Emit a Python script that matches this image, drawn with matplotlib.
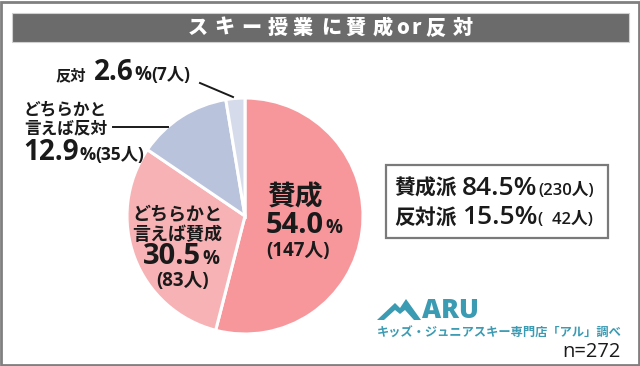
import matplotlib
matplotlib.use("Agg")
import matplotlib.pyplot as plt
from matplotlib.patches import Rectangle, Polygon

plt.rcParams['font.family'] = ['Noto Sans CJK JP', 'DejaVu Sans']

# ---- data ----
categories = ["賛成", "どちらかと言えば賛成", "どちらかと言えば反対", "反対"]
percents = [54.0, 30.5, 12.9, 2.6]
counts = [147, 83, 35, 7]
colors = ["#f7979c", "#f7b2b5", "#b9c3db", "#d5dbea"]
title = "スキー授業に賛成or反対"
summary_labels = ["賛成派", "反対派"]
summary_pct = [84.5, 15.5]
summary_cnt = [230, 42]
n_total = 272
source = "キッズ・ジュニアスキー専門店「アル」調べ"
brand = "ARU"

W, H = 640, 366
fig = plt.figure(figsize=(W / 100, H / 100), dpi=100)
ax = fig.add_axes([0, 0, 1, 1])

def Y(y):
    return H - y

# pie
cx, cy, r = 245, 216, 118
ax.pie(percents, colors=colors, startangle=90, counterclock=False,
       center=(cx, Y(cy)), radius=r,
       wedgeprops=dict(edgecolor="white", linewidth=2.2))
ax.set_xlim(0, W)
ax.set_ylim(0, H)
ax.set_aspect("equal")
ax.axis("off")

renderer = fig.canvas.get_renderer()
NUM = ['Open Sans', 'Noto Sans CJK JP']
JP = ['Noto Sans CJK JP', 'DejaVu Sans']
BK = "#1a1a1a"

def t(x, y, s, size, weight="bold", color=BK, ha="left", family=None):
    return ax.text(x, Y(y), s, fontsize=size, fontweight=weight, color=color, ha=ha,
                   va="baseline", family=family or JP)

def chain(x, y, pieces, color=BK):
    """pieces: list of (string, size, weight, family, gap)"""
    for s, size, weight, fam, gap in pieces:
        x += gap
        txt = t(x, y, s, size, weight=weight, color=color, family=fam)
        bb = txt.get_window_extent(renderer)
        x += bb.width

# outer frame
ax.add_patch(Rectangle((1, 1), W - 2, H - 3, fill=False, edgecolor="#808080", linewidth=2))

# title bar
ax.add_patch(Rectangle((12, Y(42)), 617, 29, facecolor="#6b6b6b", edgecolor="#d0d0d0", linewidth=0.8))
xs = [198, 224, 251, 278, 303, 331, 356, 383, 403, 416, 435, 463]
for ch, x in zip(title, xs):
    ax.text(x, Y(28), ch, color="white", fontsize=14.5, fontweight="heavy", ha="center", va="center")

# 反対 label
chain(55, 80, [(categories[3], 11, "bold", JP, 0),
               (f"{percents[3]}", 20, "bold", NUM, 8),
               ("%", 13.5, "bold", NUM, 1),
               (f"({counts[3]}人)", 12.5, "bold", NUM, 0)])
ax.plot([200, 233], [Y(83), Y(97)], color=BK, linewidth=1.4)

# どちらかと言えば反対 label
t(24, 114, "どちらかと", 12)
t(24, 133, "言えば" + categories[3], 12)
chain(23, 160, [(f"{percents[2]}", 20, "bold", NUM, 0),
                ("%", 13, "bold", NUM, 1),
                (f"({counts[2]}人)", 12.5, "bold", NUM, 0)])
ax.plot([113, 168], [Y(127), Y(127)], color=BK, linewidth=1.4)

# 賛成 label inside
t(267, 205, categories[0], 20)
chain(266, 233, [(f"{percents[0]}", 21, "bold", NUM, 0),
                 ("%", 13.5, "bold", NUM, 1)])
t(266, 256, f"({counts[0]}人)", 13.5, family=NUM)

# どちらかと言えば賛成 label inside
t(132, 220, "どちらかと", 13)
t(132, 240, "言えば" + categories[0], 13)
chain(143, 264, [(f"{percents[1]}", 21, "bold", NUM, 0),
                 ("%", 13.5, "bold", NUM, 1)])
t(156, 286, f"({counts[1]}人)", 13.5, family=NUM)

# summary box
ax.add_patch(Rectangle((386, Y(238)), 222, 73, fill=False, edgecolor="#7a7a7a", linewidth=1.6))
for i, yy in enumerate([195, 224]):
    cnt = f"({summary_cnt[i]}人)" if summary_cnt[i] >= 100 else f"(  {summary_cnt[i]}人)"
    chain(394, yy, [(summary_labels[i], 15, "bold", JP, 0),
                    (f"{summary_pct[i]}%", 19, "semibold", NUM, 5),
                    (cnt, 12, "semibold", NUM, 1)])

# logo
teal = "#3b9bb3"
mountain = [(377, 320), (395, 303), (400, 308), (406, 299), (421, 320), (414, 320),
            (405, 310), (400, 314), (395, 310), (384, 320)]
ax.add_patch(Polygon([(x, Y(y)) for x, y in mountain], closed=True, facecolor=teal, edgecolor="none"))
t(422, 318, brand, 19, color=teal, family=NUM, weight="heavy")
t(377, 337, source, 8.8, color=teal)
t(621, 357, f"n={n_total}", 14.5, weight="normal", ha="right", family=NUM)

fig.savefig("out.png", dpi=100)
